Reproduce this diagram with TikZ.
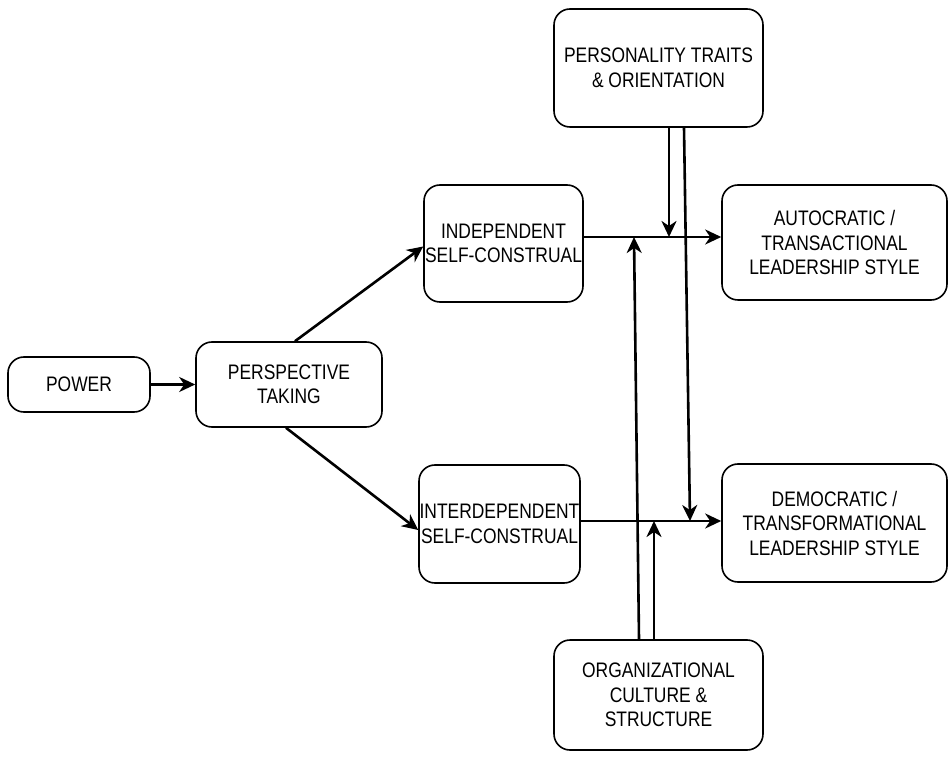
\documentclass[tikz,border=0pt]{standalone}
\usepackage{fontspec}
\setmainfont{Liberation Sans}[FakeStretch=0.83]
\usetikzlibrary{arrows.meta}

\begin{document}
\begin{tikzpicture}[x=1pt,y=1pt,
    box/.style={draw, line width=1.6pt, rounded corners=16pt, align=center,
        inner sep=0.5pt, font=\fontsize{21}{24.5}\selectfont},
    arrow/.style={line width=2.6pt, -{Stealth[length=16pt,width=15pt,inset=5pt]}}]
    \useasboundingbox (0,0) rectangle (949,758);
    % boxes
    \node[box, minimum width=142, minimum height=55] (power) at (79,373.5) {POWER};
    \node[box, minimum width=186, minimum height=85] (persp) at (289,373.5) {PERSPECTIVE\\TAKING};
    \node[box, minimum width=159, minimum height=117] (indep) at (503.5,514.5) {INDEPENDENT\\SELF-CONSTRUAL};
    \node[box, minimum width=161, minimum height=118] (inter) at (499.5,234) {INTERDEPENDENT\\SELF-CONSTRUAL};
    \node[box, minimum width=209, minimum height=118] (traits) at (658.5,690) {PERSONALITY TRAITS\\\& ORIENTATION};
    \node[box, minimum width=225, minimum height=115] (autocr) at (834.5,515.5) {AUTOCRATIC /\\TRANSACTIONAL\\LEADERSHIP STYLE};
    \node[box, minimum width=225, minimum height=118] (democr) at (834.5,235) {DEMOCRATIC /\\TRANSFORMATIONAL\\LEADERSHIP STYLE};
    \node[box, minimum width=209, minimum height=110] (orgcult) at (658.5,63) {ORGANIZATIONAL\\CULTURE \&\\STRUCTURE};
    % main path
    \draw[arrow] (power.east) -- (persp.west);
    \draw[arrow] ([xshift=6pt]persp.north) -- ([yshift=-3pt]indep.west);
    \draw[arrow] ([xshift=-3pt]persp.south) -- ([yshift=-6pt]inter.west);
    \draw[arrow] ([yshift=6.5pt]indep.east) coordinate (upjoin) -- (upjoin -| autocr.west);
    \draw[arrow] ([yshift=3pt]inter.east) coordinate (lowjoin) -- (lowjoin -| democr.west);
    % moderators
    \draw[arrow] ([xshift=10.5pt]traits.south) coordinate (t1) -- (t1 |- upjoin);
    \draw[arrow] ([xshift=25.5pt]traits.south) -- ([xshift=31.5pt]traits.south |- lowjoin);
    \draw[arrow] ([xshift=-19.5pt]orgcult.north) -- ([xshift=-24.5pt]orgcult.north |- upjoin);
    \draw[arrow] ([xshift=-4.5pt]orgcult.north) coordinate (o2) -- (o2 |- lowjoin);
\end{tikzpicture}
\end{document}
